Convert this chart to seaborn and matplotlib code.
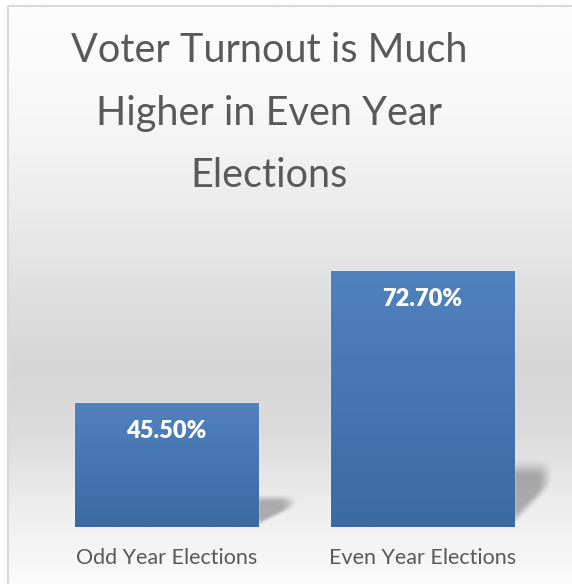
import numpy as np
import seaborn as sns
import matplotlib.pyplot as plt
from matplotlib.patches import Rectangle

# datos
categorias = ['Odd Year Elections', 'Even Year Elections']
valores = [45.5, 72.7]
etiquetas = ['45.50%', '72.70%']
titulo = 'Voter Turnout is Much\nHigher in Even Year\nElections'

sns.set_style('white')
plt.rcParams['font.family'] = ['Lato', 'DejaVu Sans']

W, H = 572, 584
fig = plt.figure(figsize=(W / 100, H / 100), dpi=100)

# fondo con degradado vertical
fondo = fig.add_axes([0, 0, 1, 1], zorder=-10)
ys = np.arange(H)
gris = np.interp(ys, [6, 100, 200, 300, 367, 433, 500, 567, 584],
                 [253, 248, 236, 222, 214, 220, 236, 248, 251]) / 255
img = np.repeat(gris[:, None], 2, axis=1)
img = np.dstack([img, img, img])
fondo.imshow(img, extent=[8, W + 10, H, 6], aspect='auto')
fondo.set_xlim(0, W)
fondo.set_ylim(H, 0)
fondo.add_patch(Rectangle((8, 6), W + 20, H + 20, fill=False, ec='#d9d9d9', lw=1.5))
fondo.axis('off')

# ejes principales
ax = fig.add_axes([38.5 / W, (H - 527) / H, 512 / W, 292 / H])
ax.patch.set_alpha(0)
sns.barplot(x=categorias, y=valores, color='#4a7ab5', width=0.715, ax=ax, zorder=3)
ax.set_ylim(20, 80)
ax.set_xlim(-0.5, 1.5)

# degradado de barras y sombras
grad = np.linspace(0, 1, 100)[:, None]
c_top = np.array([80, 130, 190]) / 255
c_bot = np.array([60, 106, 162]) / 255
barra_img = c_top[None, None, :] * (1 - grad[:, :, None]) + c_bot[None, None, :] * grad[:, :, None]
barra_img = np.repeat(barra_img, 2, axis=1)

u = np.linspace(0, 1, 80)[None, :]
t = np.linspace(1, 0, 80)[:, None]


def suave(x):
    x = np.clip(x, 0, 1)
    return x * x * (3 - 2 * x)


alfa = 0.28 * suave((t - 0.6 * u) / 0.2) * suave((1 - t) / 0.3) * suave((1 - u) / 0.45)
sombra = np.zeros((80, 80, 4))
sombra[..., 3] = alfa

for i, bar in enumerate(ax.patches):
    x0, y0 = bar.get_x(), bar.get_y()
    w, h = bar.get_width(), bar.get_height()
    y_base = 20
    im = ax.imshow(barra_img, extent=[x0, x0 + w, y_base, y0 + h], aspect='auto', zorder=4)
    im.set_clip_path(bar)
    hs = 0.27 * (y0 + h - y_base)
    ax.imshow(sombra, extent=[x0 + w, x0 + w + 0.16, y_base, y_base + hs], aspect='auto', zorder=2)
    ax.annotate(etiquetas[i], (x0 + w / 2, y0 + h), xytext=(0, -17),
                textcoords='offset pixels', ha='center', va='top', color='white',
                fontsize=17, fontweight='heavy', zorder=5)

ax.set_xlim(-0.5, 1.5)
ax.set_ylim(20, 80)
ax.set_yticks([])
ax.set_xlabel('')
ax.set_ylabel('')
ax.tick_params(axis='x', length=0, pad=15, labelsize=15.5, labelcolor='#595959')
for s in ax.spines.values():
    s.set_visible(False)

fig.text(269 / W, 1 - 32 / H, titulo, ha='center', va='top', fontsize=28.5,
         color='#595959', linespacing=1.85)

plt.savefig('out.png', dpi=100)
